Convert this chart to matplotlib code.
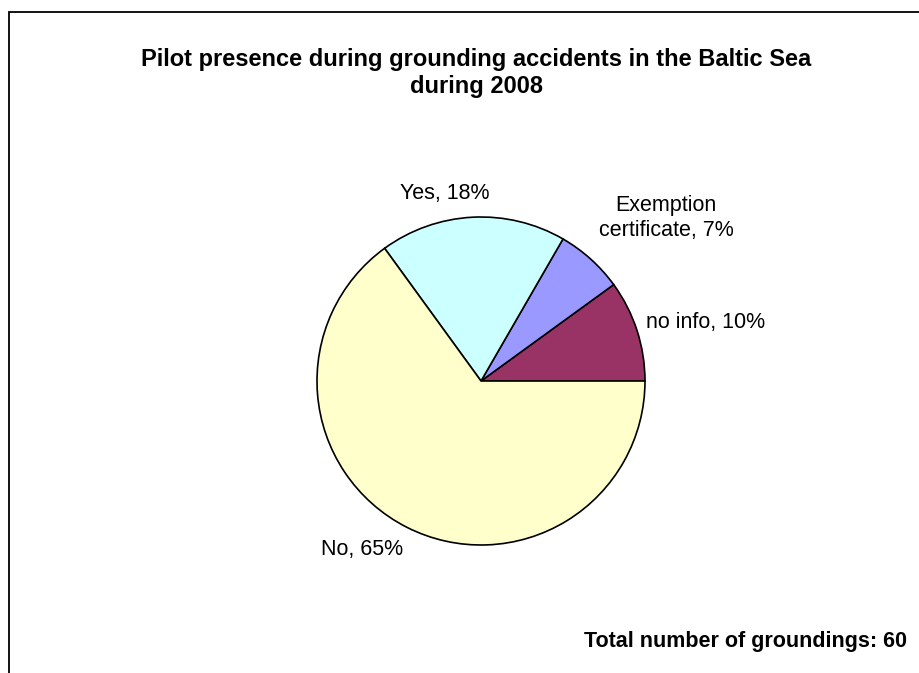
import matplotlib
matplotlib.use("Agg")
import matplotlib.pyplot as plt
from matplotlib.patches import Rectangle

plt.rcParams['font.family'] = ['Liberation Sans', 'DejaVu Sans']

# data: groundings by pilot presence (60 in total)
categories = ['no info', 'Exemption\ncertificate', 'Yes', 'No']
counts = [6, 4, 11, 39]
percent_labels = ['10%', '7%', '18%', '65%']
colors = ['#993366', '#9999FF', '#CCFFFF', '#FFFFCC']

W, H = 919, 673
fig = plt.figure(figsize=(W / 100, H / 100), dpi=100)

# chart frame (runs off the right and bottom edge like the original)
fig.patches.append(Rectangle((9 / W, -0.1), 1.2, (H - 12) / H + 0.1,
                             transform=fig.transFigure, fill=False,
                             edgecolor='black', linewidth=1.3))

# pie axes: center (481, 381), radius 164 px
cx, cy, r = 481, 381, 164
ax = fig.add_axes([(cx - r) / W, (H - cy - r) / H, 2 * r / W, 2 * r / H])
wedges, _ = ax.pie(counts, colors=colors, startangle=0, counterclock=True,
                   wedgeprops=dict(edgecolor='black', linewidth=1.2))
ax.set_xlim(-1, 1)
ax.set_ylim(-1, 1)
ax.axis('off')

# label placement in pie units (x, y, ha)
label_pos = [(1.006, 0.354, 'left'), (1.128, 0.994, 'center'),
             (-0.22, 1.146, 'center'), (-0.726, -1.03, 'center')]
for cat, pct, (lx, ly, ha) in zip(categories, percent_labels, label_pos):
    ax.text(lx, ly, f"{cat}, {pct}", ha=ha, va='center', fontsize=15.5,
            multialignment='center', clip_on=False)

fig.text(476 / W, 1 - 73 / H,
         'Pilot presence during grounding accidents in the Baltic Sea\nduring 2008',
         ha='center', va='center', fontsize=17, fontweight='bold',
         linespacing=1.25)
fig.text(907 / W, 1 - 641 / H, 'Total number of groundings: 60',
         ha='right', va='center', fontsize=15.5, fontweight='bold')

fig.savefig('out.png', dpi=100)
